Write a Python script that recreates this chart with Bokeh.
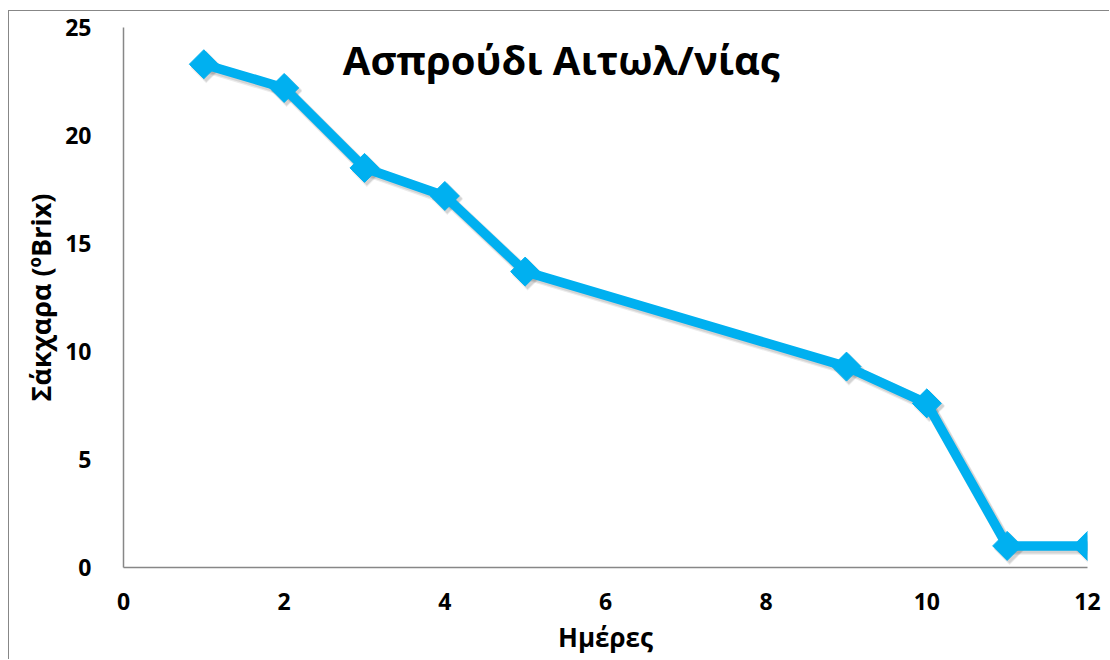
import math
from bokeh.plotting import figure
from bokeh.layouts import column
from bokeh.models import ColumnDataSource, Range1d, FixedTicker, Label, InlineStyleSheet
from bokeh.transform import dodge
from bokeh.embed import file_html
from bokeh.resources import INLINE

# Sugar content during fermentation
days = [1, 2, 3, 4, 5, 9, 10, 11, 12]
sugar_brix = [23.3, 22.2, 18.5, 17.2, 13.7, 9.3, 7.6, 1.0, 1.0]

x_ticks = [0, 2, 4, 6, 8, 10, 12]
y_ticks = [0, 5, 10, 15, 20, 25]

title_text = "Ασπρούδι Αιτωλ/νίας"
x_label = "Ημέρες"
y_label = "Σάκχαρα (ºBrix)"

FONT = "Open Sans"
BLUE = "#00B0F0"
AXIS_GREY = "#878787"

src = ColumnDataSource(data=dict(x=days, y=sugar_brix))

p = figure(
    width=1100, height=648,
    x_range=Range1d(0, 12), y_range=Range1d(0, 25),
    output_backend="svg", toolbar_location=None,
    min_border_left=114, min_border_right=22,
    min_border_top=16, min_border_bottom=92,
)
p.outline_line_color = None
p.background_fill_color = "white"
p.border_fill_color = "white"
p.xgrid.visible = False
p.ygrid.visible = False

for ax in (p.xaxis[0], p.yaxis[0]):
    ax.axis_line_color = AXIS_GREY
    ax.axis_line_width = 1.5
    ax.major_tick_line_color = None
    ax.minor_tick_line_color = None
    ax.major_label_text_font = FONT
    ax.major_label_text_font_style = "bold"
    ax.major_label_text_font_size = "23px"
    ax.major_label_text_color = "black"
    ax.axis_label_text_font = FONT
    ax.axis_label_text_font_style = "bold"
    ax.axis_label_text_color = "black"

p.xaxis.ticker = FixedTicker(ticks=x_ticks)
p.yaxis.ticker = FixedTicker(ticks=y_ticks)
p.xaxis.axis_label = x_label
p.yaxis.axis_label = y_label
p.xaxis.axis_label_text_font_size = "26px"
p.yaxis.axis_label_text_font_size = "27px"
p.xaxis.major_label_standoff = 19
p.yaxis.major_label_standoff = 26
p.xaxis.axis_label_standoff = 6
p.yaxis.axis_label_standoff = 3

# soft drop shadow under the series
for off, a in ((0.10, 0.10), (0.16, 0.08)):
    p.line(dodge("x", 0.03, range=p.x_range), dodge("y", -off, range=p.y_range),
           source=src, line_color="black", line_alpha=a, line_width=11,
           line_join="round")
    p.scatter(dodge("x", 0.03, range=p.x_range), dodge("y", -off, range=p.y_range),
              source=src, marker="square", angle=math.pi / 4, size=22,
              fill_color="black", fill_alpha=a, line_color=None)

# series line with diamond markers
p.line("x", "y", source=src, line_color=BLUE, line_width=9.5, line_join="round")
p.scatter("x", "y", source=src, marker="square", angle=math.pi / 4, size=20.5,
          fill_color=BLUE, line_color=BLUE)

p.add_layout(Label(x=5.45, y=23.5, text=title_text,
                   text_font=FONT, text_font_style="bold",
                   text_font_size="40px", text_align="center",
                   text_baseline="middle", text_color="black"))

# thin grey chart-area border on the left and top
frame_css = InlineStyleSheet(css="""
:host {
  margin-left: 8px !important;
  margin-top: 10px !important;
  border-left: 1.5px solid #878787 !important;
  border-top: 1.5px solid #878787 !important;
}
""")
page = column(p, stylesheets=[frame_css])

open("out.html", "w").write(file_html(page, INLINE))
